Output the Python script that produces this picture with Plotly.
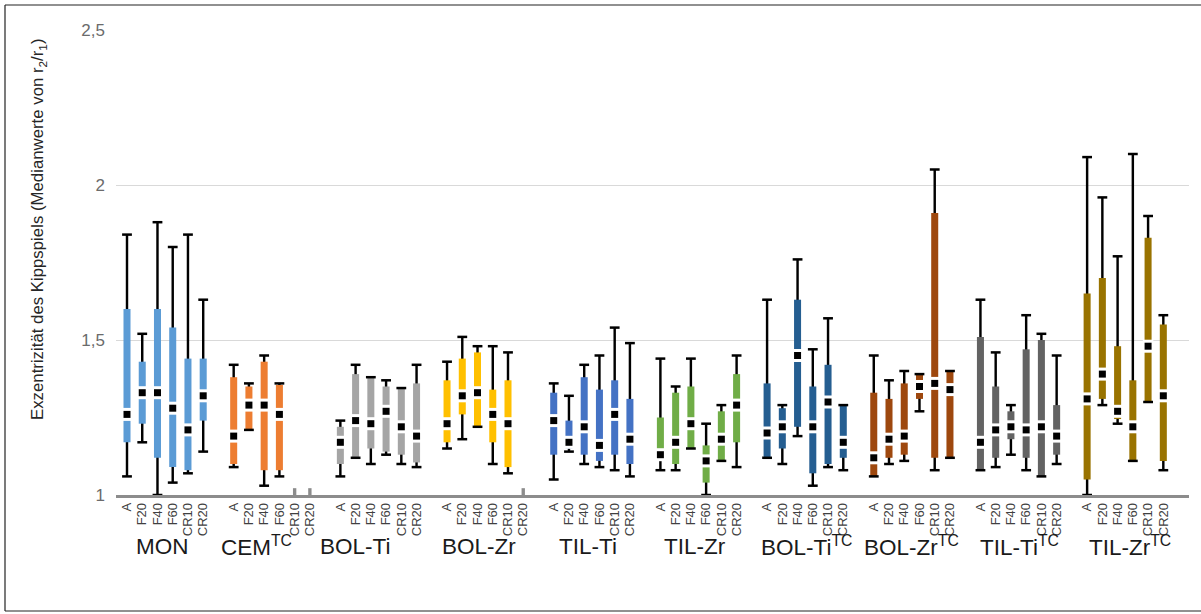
import plotly.graph_objects as go

# ---------------- data ----------------
groups = ["MON", "CEM<sup>TC</sup>", "BOL-Ti", "BOL-Zr", "TIL-Ti", "TIL-Zr",
          "BOL-Ti<sup>TC</sup>", "BOL-Zr<sup>TC</sup>", "TIL-Ti<sup>TC</sup>", "TIL-Zr<sup>TC</sup>"]
conditions = ["A", "F20", "F40", "F60", "CR10", "CR20"]
colors = ["#5B9BD5", "#ED7D31", "#A5A5A5", "#FFC000", "#4472C4", "#70AD47",
          "#255E91", "#9E480E", "#636363", "#997300"]

mins = [
    [1.06, 1.17, 1.00, 1.04, 1.07, 1.14],
    [1.09, 1.21, 1.03, 1.06, None, None],
    [1.06, 1.12, 1.10, 1.13, 1.10, 1.09],
    [1.15, 1.18, 1.22, 1.10, 1.07, None],
    [1.05, 1.14, 1.10, 1.09, 1.08, 1.06],
    [1.08, 1.08, 1.15, 1.00, 1.11, 1.09],
    [1.12, 1.10, 1.19, 1.03, 1.09, 1.08],
    [1.06, 1.10, 1.11, 1.27, 1.08, 1.12],
    [1.08, 1.09, 1.13, 1.08, 1.06, 1.10],
    [1.00, 1.29, 1.23, 1.11, 1.30, 1.08],
]
q1s = [
    [1.17, 1.23, 1.12, 1.09, 1.08, 1.24],
    [1.10, 1.21, 1.08, 1.08, None, None],
    [1.10, 1.12, 1.15, 1.14, 1.13, 1.105],
    [1.17, 1.26, 1.22, 1.17, 1.09, None],
    [1.13, 1.15, 1.13, 1.11, 1.13, 1.10],
    [1.11, 1.10, 1.15, 1.04, 1.11, 1.17],
    [1.12, 1.15, 1.22, 1.07, 1.10, 1.12],
    [1.06, 1.12, 1.13, 1.31, 1.12, 1.12],
    [1.08, 1.12, 1.18, 1.12, 1.06, 1.13],
    [1.05, 1.31, 1.245, 1.11, 1.30, 1.11],
]
medians = [
    [1.26, 1.33, 1.33, 1.28, 1.21, 1.32],
    [1.19, 1.29, 1.29, 1.26, None, None],
    [1.17, 1.24, 1.23, 1.27, 1.22, 1.19],
    [1.23, 1.32, 1.33, 1.26, 1.23, None],
    [1.24, 1.17, 1.22, 1.16, 1.26, 1.18],
    [1.13, 1.17, 1.23, 1.11, 1.18, 1.29],
    [1.20, 1.22, 1.45, 1.22, 1.30, 1.17],
    [1.12, 1.18, 1.19, 1.35, 1.36, 1.34],
    [1.17, 1.21, 1.22, 1.21, 1.22, 1.19],
    [1.31, 1.39, 1.27, 1.22, 1.48, 1.32],
]
q3s = [
    [1.60, 1.43, 1.60, 1.54, 1.44, 1.44],
    [1.38, 1.35, 1.43, 1.355, None, None],
    [1.22, 1.39, 1.38, 1.35, 1.345, 1.36],
    [1.37, 1.44, 1.46, 1.34, 1.37, None],
    [1.33, 1.24, 1.38, 1.34, 1.37, 1.31],
    [1.25, 1.33, 1.35, 1.16, 1.27, 1.39],
    [1.36, 1.28, 1.63, 1.35, 1.42, 1.29],
    [1.33, 1.31, 1.36, 1.39, 1.91, 1.40],
    [1.51, 1.35, 1.27, 1.47, 1.50, 1.29],
    [1.65, 1.70, 1.48, 1.37, 1.83, 1.55],
]
maxs = [
    [1.84, 1.52, 1.88, 1.80, 1.84, 1.63],
    [1.42, 1.36, 1.45, 1.36, None, None],
    [1.24, 1.42, 1.38, 1.37, 1.345, 1.42],
    [1.43, 1.51, 1.48, 1.48, 1.46, None],
    [1.36, 1.32, 1.42, 1.45, 1.54, 1.49],
    [1.44, 1.35, 1.44, 1.23, 1.29, 1.45],
    [1.63, 1.29, 1.76, 1.47, 1.57, 1.29],
    [1.45, 1.37, 1.40, 1.39, 2.05, 1.40],
    [1.63, 1.46, 1.29, 1.58, 1.52, 1.45],
    [2.09, 1.96, 1.77, 2.10, 1.90, 1.58],
]
y_ticks = [1, 1.5, 2, 2.5]
y_title = "Exzentrizität des Kippspiels (Medianwerte von r<sub>2</sub>/r<sub>1</sub>)"

# ---------------- layout constants (pixels) ----------------
W, H = 1201, 614
L, R, T, B = 116, 12, 30, 119
SLOT_GAP = 1               # one empty slot between groups
slot_px = 15.24
first_slot_px = 127
label_xshift = [-3, -15, -23, -6, -4, -4, 1, 0, 1, 5]
FONT = "Liberation Sans, Arial, sans-serif"

def px2paper_x(px):
    return (px - L) / (W - L - R)

def px2paper_y(py):
    return (H - B - py) / (H - T - B)

n_per = len(conditions) + SLOT_GAP
fig = go.Figure()

whisk_x, whisk_base, whisk_h = [], [], []
stub_x = []
cap_x, cap_y = [], []
med_x, med_y = [], []
tickvals, ticktext = [], []
box_traces = []

for g, name in enumerate(groups):
    bx, bbase, bh = [], [], []
    for c, cond in enumerate(conditions):
        x = g * n_per + c
        tickvals.append(x)
        ticktext.append(cond)
        mn, q1, md, q3, mx = mins[g][c], q1s[g][c], medians[g][c], q3s[g][c], maxs[g][c]
        if md is None:
            stub_x.append(x)
            continue
        whisk_x.append(x); whisk_base.append(mn); whisk_h.append(mx - mn)
        bx.append(x); bbase.append(q1); bh.append(q3 - q1)
        cap_x += [x, x]; cap_y += [mn, mx]
        med_x.append(x); med_y.append(md)
    box_traces.append(go.Bar(x=bx, base=bbase, y=bh, width=0.46,
                             marker=dict(color=colors[g], line=dict(width=0)),
                             showlegend=False, name=name))

# whiskers first (underneath the boxes)
fig.add_trace(go.Bar(x=whisk_x, base=whisk_base, y=whisk_h, width=0.16,
                     marker=dict(color="black", line=dict(width=0)), showlegend=False))
for tr in box_traces:
    fig.add_trace(tr)

# stubs for missing categories
fig.add_trace(go.Bar(x=stub_x, base=[1] * len(stub_x), y=[0.022] * len(stub_x), width=0.22,
                     marker=dict(color="#8c8c8c", line=dict(width=0)), showlegend=False))

# caps
fig.add_trace(go.Scatter(x=cap_x, y=cap_y, mode="markers", cliponaxis=False,
                         marker=dict(symbol="line-ew", size=7, line=dict(color="black", width=2.5)),
                         showlegend=False, hoverinfo="skip"))
# median white gap
fig.add_trace(go.Scatter(x=med_x, y=med_y, mode="markers", cliponaxis=False,
                         marker=dict(symbol="line-ew", size=7.5, line=dict(color="white", width=13)),
                         showlegend=False, hoverinfo="skip"))
# median black square
fig.add_trace(go.Scatter(x=med_x, y=med_y, mode="markers", cliponaxis=False,
                         marker=dict(symbol="square", size=7, color="black", line=dict(width=0)),
                         showlegend=False, hoverinfo="skip"))

x_left = (L - first_slot_px) / slot_px
x_right = (W - R - first_slot_px) / slot_px

annotations = []
for g, name in enumerate(groups):
    center = g * n_per + (len(conditions) - 1) / 2
    annotations.append(dict(x=center, y=px2paper_y(546), xref="x", yref="paper",
                            text=name, showarrow=False, xshift=label_xshift[g],
                            xanchor="center", yanchor="middle",
                            font=dict(family=FONT, size=22.5, color="#1a1a1a")))
annotations.append(dict(x=px2paper_x(38), y=px2paper_y(229), xref="paper", yref="paper",
                        text=y_title, textangle=-90, showarrow=False,
                        xanchor="center", yanchor="middle",
                        font=dict(family=FONT, size=16.8, color="#262626")))

frame = dict(color="#222222", width=1.2)
shapes = [
    dict(type="line", xref="paper", yref="paper", x0=px2paper_x(5), x1=px2paper_x(1201),
         y0=px2paper_y(5), y1=px2paper_y(5), line=frame),
    dict(type="line", xref="paper", yref="paper", x0=px2paper_x(5), x1=px2paper_x(5),
         y0=px2paper_y(5), y1=px2paper_y(611), line=frame),
    dict(type="line", xref="paper", yref="paper", x0=px2paper_x(5), x1=px2paper_x(1201),
         y0=px2paper_y(611), y1=px2paper_y(611), line=frame),
]

fig.update_layout(
    width=W, height=H,
    margin=dict(l=L, r=R, t=T, b=B, pad=0),
    paper_bgcolor="white", plot_bgcolor="white",
    barmode="overlay",
    separators=",.",
    showlegend=False,
    hovermode=False,
    annotations=annotations,
    shapes=shapes,
    font=dict(family=FONT),
    xaxis=dict(range=[x_left, x_right], tickmode="array", tickvals=tickvals, ticktext=ticktext,
               tickangle=-90, tickfont=dict(size=13, color="#404040"),
               showgrid=False, zeroline=False, showline=True, linecolor="#8c8c8c", linewidth=2.5,
               ticks="", fixedrange=True),
    yaxis=dict(range=[1, 2.5], tickmode="array", tickvals=y_ticks,
               tickfont=dict(size=17, color="#6b6b6b"),
               showgrid=True, gridcolor="#d9d9d9", gridwidth=1, zeroline=False,
               showline=False, ticks="", ticklabelstandoff=10, fixedrange=True),
)

fig.write_html("out.html", config={"displayModeBar": False},
               post_script="document.body.style.margin='0';")
